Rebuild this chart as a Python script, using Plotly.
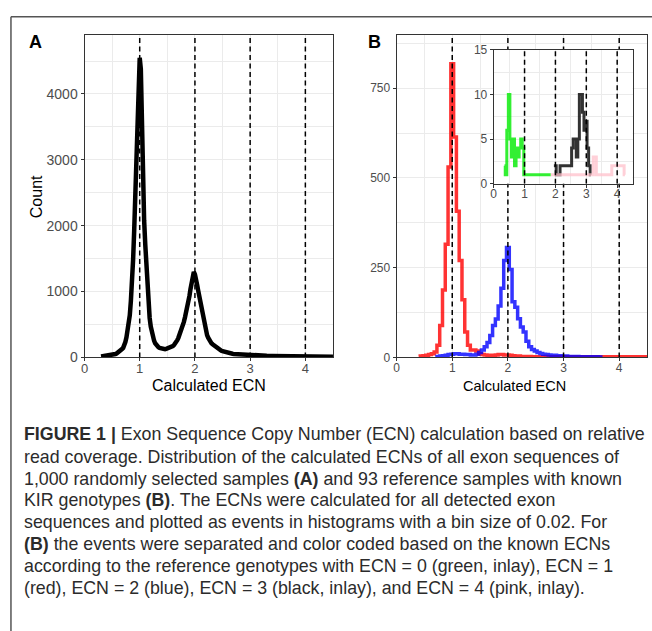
import plotly.graph_objects as go

# ---------------- data ----------------
# Panel A: all exon sequences, 1,000 samples (bin 0.02 from 0.30 to 2.70, then tail)
bin_a = 0.02
count_a_core = [
    15, 17, 19, 21, 23, 25, 27, 29, 31, 34,
    37, 41, 46, 52, 60, 70, 82, 96, 112, 128,
    145, 180, 235, 305, 390, 490, 640, 860, 1120, 1480,
    1930, 2480, 3050, 3150, 3700, 4550, 4380, 3450, 2580, 2080,
    1720, 1380, 1050, 790, 600, 470, 380, 310, 255, 215,
    185, 168, 155, 145, 138, 132, 128, 126, 127, 130,
    135, 140, 147, 155, 162, 172, 188, 208, 232, 262,
    298, 338, 384, 430, 480, 540, 610, 680, 750, 840,
    930, 1040, 1160, 1270, 1300, 1260, 1200, 1100, 1010, 920,
    820, 720, 620, 530, 450, 390, 340, 300, 265, 240,
    215, 200, 185, 170, 155, 140, 128, 118, 110, 102,
    95, 89, 83, 78, 73, 69, 65, 62, 59, 56,
    54,
]
ecn_a_core = [round(0.30 + bin_a * i, 2) for i in range(len(count_a_core))]
ecn_a_tail = [2.8, 2.9, 3.0, 3.1, 3.2, 3.3, 3.4, 3.5, 3.6, 3.7, 3.8, 3.9, 4.0, 4.1, 4.2, 4.3, 4.4, 4.5]
count_a_tail = [47, 40, 35, 31, 28, 25, 23, 21, 19, 17, 16, 15, 14, 13, 12, 11, 10, 10]
ecn_a = ecn_a_core + ecn_a_tail
count_a = count_a_core + count_a_tail

# Panel B: reference samples, ECN = 1 (red)
bin_b = 0.05
count_red = [
    3, 4, 5, 6, 8, 10, 15, 34, 89, 188,
    315, 530, 818, 614, 407, 270, 161, 71, 34, 21,
    21, 18, 10, 8, 7, 6, 6, 6, 7, 8,
    8, 7, 7, 6, 5, 4, 4, 3, 3, 3,
    3, 2, 2, 2, 2, 2, 3, 2, 2, 2,
    2, 1, 2, 2, 2, 1, 2, 2, 2, 1,
    2, 2, 1, 2, 2, 2, 1, 2, 2, 2,
    1, 2, 2, 2, 2, 1, 2, 2, 2, 2,
    2, 2, 2,
]
ecn_red = [round(0.40 + bin_b * i, 2) for i in range(len(count_red))]

# ECN = 2 (blue)
count_blue = [
    2, 3, 4, 5, 6, 8, 9, 10, 10, 9,
    9, 8, 8, 7, 7, 9, 14, 21, 30, 42,
    61, 89, 107, 143, 193, 270, 306, 245, 155, 140,
    108, 85, 71, 45, 30, 22, 18, 14, 11, 9,
    8, 7, 6, 6, 5, 5, 4, 4, 3, 3,
    3, 3, 2, 2, 2, 2, 2, 2, 2, 1,
    1,
]
ecn_blue = [round(0.70 + bin_b * i, 2) for i in range(len(count_blue))]

# Inlay: ECN = 0 (green), ECN = 3 (black), ECN = 4 (pink); only non-empty bins
ecn_green = [0.35, 0.40, 0.45, 0.50, 0.55, 0.60, 0.65, 0.70, 0.75, 0.80, 0.85, 0.90, 0.95, 1.00, 1.85]
count_green = [2, 1, 6, 10, 5, 3, 5, 2, 4, 3, 4, 5, 4, 1, 1]

ecn_black = [1.95, 2.00, 2.05, 2.25, 2.30, 2.35, 2.40, 2.45, 2.50, 2.55, 2.60, 2.65, 2.70,
             2.75, 2.80, 2.85, 2.90, 2.95, 3.00, 3.05, 3.10, 3.15]
count_black = [2, 2, 1, 2, 2, 2, 2, 2, 2, 4, 5, 5, 3, 5, 10, 10, 8, 6, 7, 4, 2, 1]

ecn_pink = [1.85, 3.20, 3.25, 3.30, 3.35, 3.80, 3.85, 3.90, 3.95, 4.00, 4.05, 4.10, 4.15, 4.20, 4.25]
count_pink = [1, 1, 3, 3, 1, 1, 2, 2, 2, 2, 2, 2, 2, 2, 1]

ref_ecn = [1, 2, 3, 4]
x_ticks = [0, 1, 2, 3, 4]
y_ticks_a = [0, 1000, 2000, 3000, 4000]
y_ticks_b = [0, 250, 500, 750]
y_ticks_in = [0, 5, 10, 15]

caption_lines = [
    "<b>FIGURE 1 |</b> Exon Sequence Copy Number (ECN) calculation based on relative",
    "read coverage. Distribution of the calculated ECNs of all exon sequences of",
    "1,000 randomly selected samples <b>(A)</b> and 93 reference samples with known",
    "KIR genotypes <b>(B)</b>. The ECNs were calculated for all detected exon",
    "sequences and plotted as events in histograms with a bin size of 0.02. For",
    "<b>(B)</b> the events were separated and color coded based on the known ECNs",
    "according to the reference genotypes with ECN = 0 (green, inlay), ECN = 1",
    "(red), ECN = 2 (blue), ECN = 3 (black, inlay), and ECN = 4 (pink, inlay).",
]

# ---------------- layout helpers ----------------
W, H = 652, 631
FONT = "Liberation Sans, Arial, Helvetica, sans-serif"


def px_x(p):
    return p / W


def px_y(p):
    return 1 - p / H


YMAX_A, YMAX_B, YMAX_IN = 4890, 897, 15
XMAX = 4.5
DASH = "5px,3.5px"

fig = go.Figure()

# Panel A
fig.add_trace(go.Scatter(x=ecn_a, y=count_a, mode="lines", xaxis="x", yaxis="y",
                         line=dict(color="black", width=4.5), showlegend=False, hoverinfo="skip"))
for v in ref_ecn:
    fig.add_trace(go.Scatter(x=[v, v], y=[0, YMAX_A], mode="lines", xaxis="x", yaxis="y",
                             line=dict(color="black", width=1.5, dash=DASH),
                             showlegend=False, hoverinfo="skip"))

# Panel B
fig.add_trace(go.Scatter(x=ecn_red, y=count_red, mode="lines", xaxis="x2", yaxis="y2",
                         line=dict(color="rgba(255,0,0,0.8)", width=3.5, shape="hvh"),
                         showlegend=False, hoverinfo="skip"))
fig.add_trace(go.Scatter(x=ecn_blue, y=count_blue, mode="lines", xaxis="x2", yaxis="y2",
                         line=dict(color="rgba(0,0,255,0.8)", width=3.5, shape="hvh"),
                         showlegend=False, hoverinfo="skip"))
for v in ref_ecn:
    fig.add_trace(go.Scatter(x=[v, v], y=[0, YMAX_B], mode="lines", xaxis="x2", yaxis="y2",
                             line=dict(color="black", width=1.5, dash=DASH),
                             showlegend=False, hoverinfo="skip"))

# Inlay
fig.add_trace(go.Scatter(x=ecn_black, y=count_black, mode="lines", xaxis="x3", yaxis="y3",
                         line=dict(color="rgba(0,0,0,0.8)", width=3, shape="hvh"),
                         showlegend=False, hoverinfo="skip"))
fig.add_trace(go.Scatter(x=ecn_green, y=count_green, mode="lines", xaxis="x3", yaxis="y3",
                         line=dict(color="rgba(0,235,0,0.8)", width=3, shape="hvh"),
                         showlegend=False, hoverinfo="skip"))
fig.add_trace(go.Scatter(x=ecn_pink, y=count_pink, mode="lines", xaxis="x3", yaxis="y3",
                         line=dict(color="rgba(255,192,203,0.75)", width=3, shape="hvh"),
                         showlegend=False, hoverinfo="skip"))
for v in ref_ecn:
    fig.add_trace(go.Scatter(x=[v, v], y=[0, YMAX_IN], mode="lines", xaxis="x3", yaxis="y3",
                             line=dict(color="black", width=1.5, dash=DASH),
                             showlegend=False, hoverinfo="skip"))

GRID = "#EBEBEB"
BORDER = "#333333"


def xax(domain, tickfont, anchor):
    return dict(domain=domain, anchor=anchor, range=[0, XMAX], tickvals=x_ticks,
                ticks="outside", ticklen=3, tickcolor=BORDER, tickwidth=1,
                ticklabelstandoff=-4,
                tickfont=dict(size=tickfont, color="#4D4D4D", family=FONT),
                showgrid=True, gridcolor=GRID, gridwidth=1.1,
                minor=dict(dtick=0.5, tick0=0, showgrid=True, gridcolor=GRID, gridwidth=0.6, ticks=""),
                showline=True, linecolor=BORDER, linewidth=1, mirror=True, zeroline=False,
                fixedrange=True)


def yax(domain, rng, ticks, minor_step, tickfont, anchor):
    return dict(domain=domain, anchor=anchor, range=rng, tickvals=ticks,
                ticks="outside", ticklen=3, tickcolor=BORDER, tickwidth=1,
                tickfont=dict(size=tickfont, color="#4D4D4D", family=FONT),
                showgrid=True, gridcolor=GRID, gridwidth=1.1,
                minor=dict(dtick=minor_step, tick0=0, showgrid=True, gridcolor=GRID, gridwidth=0.6, ticks=""),
                showline=True, linecolor=BORDER, linewidth=1, mirror=True, zeroline=False,
                fixedrange=True)


def label(text, x, y, size, angle=0, xanchor="center", color="black", family=FONT):
    return dict(text=text, x=px_x(x), y=px_y(y), xref="paper", yref="paper",
                xanchor=xanchor, yanchor="middle", textangle=angle, showarrow=False,
                font=dict(size=size, color=color, family=family))


annotations = [
    label("Count", 33, 194, 16, angle=-90),
    label("Calculated ECN", 206, 388, 16),
    label("Calculated ECN", 514, 388, 14.5),
    label("<b>A</b>", 32, 36, 18),
    label("<b>B</b>", 373, 36, 18),
]
cap_y = [437.7, 460.5, 483, 505.5, 528, 550.5, 573, 595.5]
for line, yy in zip(caption_lines, cap_y):
    annotations.append(label(line, 18, yy, 17.8, xanchor="left", color="#2B2B2B"))

shapes = [
    dict(type="line", xref="paper", yref="paper", x0=px_x(7), x1=1.02, y0=px_y(10), y1=px_y(10),
         line=dict(color="#555555", width=1.5)),
    dict(type="line", xref="paper", yref="paper", x0=px_x(7), x1=px_x(7), y0=px_y(10), y1=-0.02,
         line=dict(color="#555555", width=1.5)),
]

fig.update_layout(
    width=W, height=H, autosize=False,
    margin=dict(l=0, r=0, t=0, b=0),
    paper_bgcolor="white", plot_bgcolor="white",
    font=dict(family=FONT),
    showlegend=False,
    xaxis=xax([px_x(81), px_x(331)], 13, "y"),
    yaxis=yax([px_y(359), px_y(29)], [0, YMAX_A], y_ticks_a, 500, 14, "x"),
    xaxis2=xax([px_x(395), px_x(647)], 12, "y2"),
    yaxis2=yax([px_y(359), px_y(29)], [0, YMAX_B], y_ticks_b, 125, 12, "x2"),
    xaxis3=xax([px_x(492.7), px_x(632.5)], 12, "y3"),
    yaxis3=yax([px_y(181), px_y(44)], [0, YMAX_IN], y_ticks_in, 2.5, 12, "x3"),
    annotations=annotations,
    shapes=shapes,
)

fig.write_html("out.html", config={"displayModeBar": False},
               post_script="document.body.style.margin='0';document.body.style.overflow='hidden';")
